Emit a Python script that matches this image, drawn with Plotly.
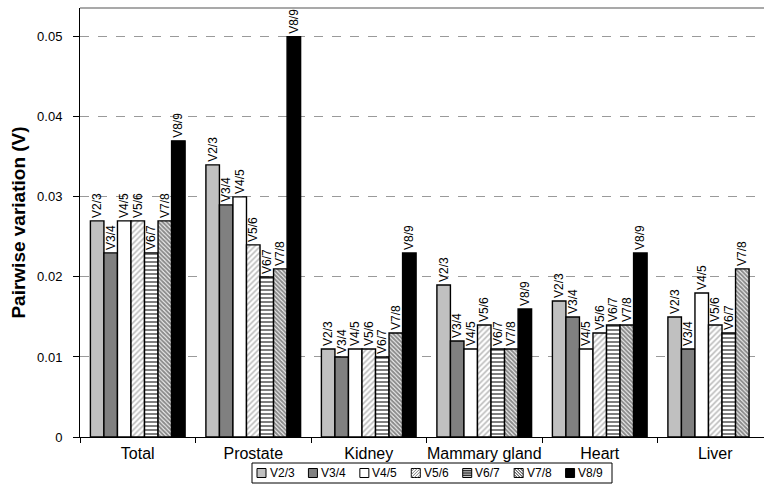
import plotly.graph_objects as go

# Pairwise variation (V) of reference-gene normalization factors per tissue
categories = ["Total", "Prostate", "Kidney", "Mammary gland", "Heart", "Liver"]
series_names = ["V2/3", "V3/4", "V4/5", "V5/6", "V6/7", "V7/8", "V8/9"]

v2_3 = [0.027, 0.034, 0.011, 0.019, 0.017, 0.015]
v3_4 = [0.023, 0.029, 0.010, 0.012, 0.015, 0.011]
v4_5 = [0.027, 0.030, 0.011, 0.011, 0.011, 0.018]
v5_6 = [0.027, 0.024, 0.011, 0.014, 0.013, 0.014]
v6_7 = [0.023, 0.020, 0.010, 0.011, 0.014, 0.013]
v7_8 = [0.027, 0.021, 0.013, 0.011, 0.014, 0.021]
v8_9 = [0.037, 0.050, 0.023, 0.016, 0.023, None]

y_ticks = [0, 0.01, 0.02, 0.03, 0.04, 0.05]
y_tick_text = ["0", "0.01", "0.02", "0.03", "0.04", "0.05"]

series_values = [v2_3, v3_4, v4_5, v5_6, v6_7, v7_8, v8_9]

# fill style per series: (bg colour, pattern shape, pattern fg colour, size, solidity)
styles = [
    ("#c0c0c0", "", None, None, None),
    ("#808080", "", None, None, None),
    ("#ffffff", "", None, None, None),
    ("#ffffff", "/", "#7a7a7a", 4, 0.4),
    ("#ffffff", "-", "#000000", 4, 0.5),
    ("#ffffff", "\\", "#1a1a1a", 3, 0.7),
    ("#000000", "", None, None, None),
]

FONT = "Liberation Sans, Arial, sans-serif"
W, H = 764, 488
L, R, T, B = 80, 764, 8, 437


def px_x(px):
    return (px - L) / (R - L)


def px_y(py):
    return (B - py) / (B - T)


fig = go.Figure()
for name, vals, (bg, shape, fg, size, sol) in zip(series_names, series_values, styles):
    marker = dict(color=bg, line=dict(color="#000000", width=1.4))
    if shape:
        marker["pattern"] = dict(shape=shape, fgcolor=fg, bgcolor=bg,
                                 size=size, solidity=sol, fillmode="overlay")
    fig.add_trace(go.Bar(
        x=categories, y=vals, name=name, marker=marker,
        text=[name if v is not None else "" for v in vals],
        textposition="outside", textangle=-90, constraintext="none",
        textfont=dict(family=FONT, size=12, color="#000000"),
        cliponaxis=False, showlegend=False,
    ))

shapes = []
annotations = []

# top frame line
shapes.append(dict(type="line", xref="paper", yref="paper", x0=0, x1=1, y0=1, y1=1,
                   line=dict(color="#8c8c8c", width=1.5)))

# legend box
lx0, lx1, ly0, ly1 = 252, 612, 463, 483
shapes.append(dict(type="rect", xref="paper", yref="paper",
                   x0=px_x(lx0), x1=px_x(lx1), y0=px_y(ly1), y1=px_y(ly0),
                   line=dict(color="#000000", width=1), fillcolor="rgba(0,0,0,0)"))

step = (lx1 - lx0) / 7
sw = 9
cy = (ly0 + ly1) / 2
for i, (name, (bg, shape, fg, size, sol)) in enumerate(zip(series_names, styles)):
    sx0 = lx0 + 5 + i * step
    sx1 = sx0 + sw
    sy0, sy1 = cy - sw / 2, cy + sw / 2
    shapes.append(dict(type="rect", xref="paper", yref="paper",
                       x0=px_x(sx0), x1=px_x(sx1), y0=px_y(sy1), y1=px_y(sy0),
                       line=dict(color="#000000", width=1), fillcolor=bg))
    if shape == "-":
        for k in range(1, 5):
            yy = sy0 + k * sw / 5
            shapes.append(dict(type="line", xref="paper", yref="paper",
                               x0=px_x(sx0), x1=px_x(sx1), y0=px_y(yy), y1=px_y(yy),
                               line=dict(color=fg, width=1)))
    elif shape in ("/", "\\"):
        for k in range(-2, 3):
            off = k * 3
            if shape == "/":
                xa, ya, xb, yb = sx0 + off, sy1, sx1 + off, sy0
            else:
                xa, ya, xb, yb = sx0 + off, sy0, sx1 + off, sy1
            # clip segment to the swatch square
            pts = []
            for t in [j / 20 for j in range(21)]:
                xx = xa + (xb - xa) * t
                yy = ya + (yb - ya) * t
                if sx0 <= xx <= sx1:
                    pts.append((xx, yy))
            if len(pts) >= 2:
                shapes.append(dict(type="line", xref="paper", yref="paper",
                                   x0=px_x(pts[0][0]), y0=px_y(pts[0][1]),
                                   x1=px_x(pts[-1][0]), y1=px_y(pts[-1][1]),
                                   line=dict(color=fg, width=1)))
    annotations.append(dict(xref="paper", yref="paper", x=px_x(sx1 + 1.5), y=px_y(cy),
                            text=name, showarrow=False, xanchor="left", yanchor="middle",
                            font=dict(family=FONT, size=12, color="#000000")))

slot = 115.5
span = (R - L) / slot

fig.update_layout(
    width=W, height=H,
    margin=dict(l=L, r=W - R, t=T, b=H - B),
    paper_bgcolor="#ffffff", plot_bgcolor="#ffffff",
    barmode="group", bargap=0.18, bargroupgap=0,
    font=dict(family=FONT, color="#000000"),
    shapes=shapes, annotations=annotations,
    xaxis=dict(
        range=[-0.5, -0.5 + span], showgrid=False,
        showline=True, linecolor="#000000", linewidth=1,
        ticks="outside", tickson="boundaries", ticklen=5, tickcolor="#000000",
        tickangle=0, automargin=False,
        tickfont=dict(family=FONT, size=16, color="#000000"),
        ticklabelstandoff=2,
    ),
    yaxis=dict(
        range=[0, 0.0536], tickvals=y_ticks, ticktext=y_tick_text,
        showgrid=True, gridcolor="#9a9a9a", griddash="dash", gridwidth=1,
        zeroline=False, showline=True, linecolor="#000000", linewidth=1,
        ticks="outside", ticklen=6, tickcolor="#000000",
        tickfont=dict(family=FONT, size=13, color="#000000"),
        ticklabelstandoff=8,
        title=dict(text="<b>Pairwise variation (V)</b>", standoff=6,
                   font=dict(family=FONT, size=19, color="#000000")),
        automargin=False,
    ),
)

fig.write_html("out.html")
